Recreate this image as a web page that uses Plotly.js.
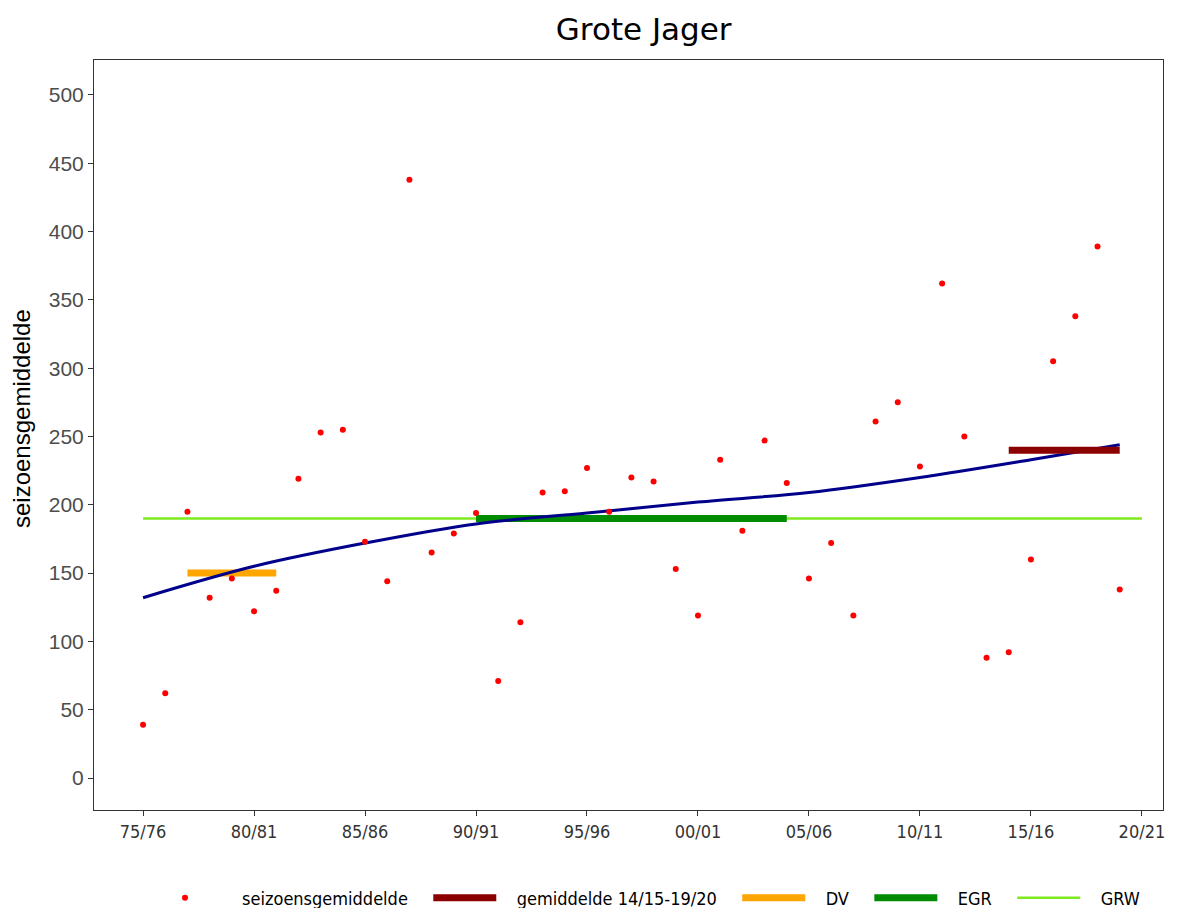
<!DOCTYPE html>
<html>
<head>
<meta charset="utf-8">
<script src="https://cdn.plot.ly/plotly-3.0.1.min.js"></script>
<style>html,body{margin:0;padding:0;background:#fff;}#chart{width:1179px;height:908px;}</style>
</head>
<body>
<div id="chart"></div>
<script>
// season start years and seasonal averages
const seasons = [1975,1976,1977,1978,1979,1980,1981,1982,1983,1984,1985,1986,1987,1988,1989,1990,1991,1992,1993,1994,1995,1996,1997,1998,1999,2000,2001,2002,2003,2004,2005,2006,2007,2008,2009,2010,2011,2012,2013,2014,2015,2016,2017,2018,2019];
const seasonAvg = [39,62,195,132,146,122,137,219,253,255,173,144,438,165,179,194,71,114,209,210,227,195,220,217,153,119,233,181,247,216,146,172,119,261,275,228,362,250,88,92,160,305,338,389,138];

// trend curve read at a few positions
const trendX = [1975,1980,1985,1990,1995,2000,2005,2010,2015,2019];
const trendY = [132,155,172,186,194,202,209,220,233,244];

// reference levels
const recentX = [2014,2019]; const recentY = [240,240];
const dvX = [1977,1981]; const dvY = [150,150];
const egrX = [1990,2004]; const egrY = [190,190];
const grwX = [1975,2020]; const grwY = [190,190];

const tickVals = [1975,1980,1985,1990,1995,2000,2005,2010,2015,2020];
const tickText = ['75/76','80/81','85/86','90/91','95/96','00/01','05/06','10/11','15/16','20/21'];
const yTicks = [0,50,100,150,200,250,300,350,400,450,500];

const sp = n => '\u00a0'.repeat(n);

const traces = [
  {x: grwX, y: grwY, mode:'lines', line:{color:'#7FEA1E', width:2.5}, name: sp(3)+'GRW', legendrank:5},
  {x: egrX, y: egrY, mode:'lines', line:{color:'#008B00', width:7}, name: sp(3)+'EGR'+sp(3), legendrank:4},
  {x: dvX, y: dvY, mode:'lines', line:{color:'#FFA500', width:7}, name: sp(3)+'DV'+sp(3), legendrank:3},
  {x: trendX, y: trendY, mode:'lines', line:{color:'#00008B', width:3, shape:'spline'}, showlegend:false},
  {x: recentX, y: recentY, mode:'lines', line:{color:'#8B0000', width:7}, name: sp(3)+'gemiddelde 14/15-19/20'+sp(3), legendrank:2},
  {x: seasons, y: seasonAvg, mode:'markers', marker:{color:'#FF0000', size:6}, name: sp(4)+'seizoensgemiddelde'+sp(3), legendrank:1}
];

const layout = {
  width:1179, height:908,
  margin:{l:94, r:16, t:60, b:98, autoexpand:false},
  paper_bgcolor:'#fff', plot_bgcolor:'#fff',
  title:{text:'Grote Jager', x:0.546, xanchor:'center', y:0.968, yanchor:'middle', font:{family:'DejaVu Sans', size:31, color:'#000'}},
  xaxis:{range:[1972.79,2020.95], tickvals:tickVals, ticktext:tickText, showgrid:false, zeroline:false, automargin:false,
    showline:true, mirror:true, linecolor:'#333', linewidth:1, ticks:'outside', ticklen:5, tickcolor:'#333',
    tickfont:{family:'DejaVu Sans Condensed, DejaVu Sans', size:18, color:'#333'}},
  yaxis:{range:[-23.4,525.6], tickvals:yTicks, showgrid:false, zeroline:false, automargin:false,
    showline:true, mirror:true, linecolor:'#333', linewidth:1, ticks:'outside', ticklen:5, tickcolor:'#333',
    tickfont:{family:'Liberation Sans, Arial', size:21, color:'#4d4d4d'}},
  annotations:[{text:'seizoensgemiddelde', xref:'paper', yref:'paper', x:-73/1069, y:(810-418)/750, xanchor:'center', yanchor:'middle',
    textangle:-90, showarrow:false, font:{family:'Liberation Sans, Arial', size:24, color:'#000'}}],
  legend:{orientation:'h', x:(647-94)/1069, xanchor:'center', y:-88/750, yanchor:'middle',
    font:{family:'DejaVu Sans Condensed, DejaVu Sans', size:18, color:'#000'}, itemwidth:63, traceorder:'normal'},
  showlegend:true
};

Plotly.newPlot('chart', traces, layout, {displayModeBar:false, staticPlot:true});
</script>
</body>
</html>
